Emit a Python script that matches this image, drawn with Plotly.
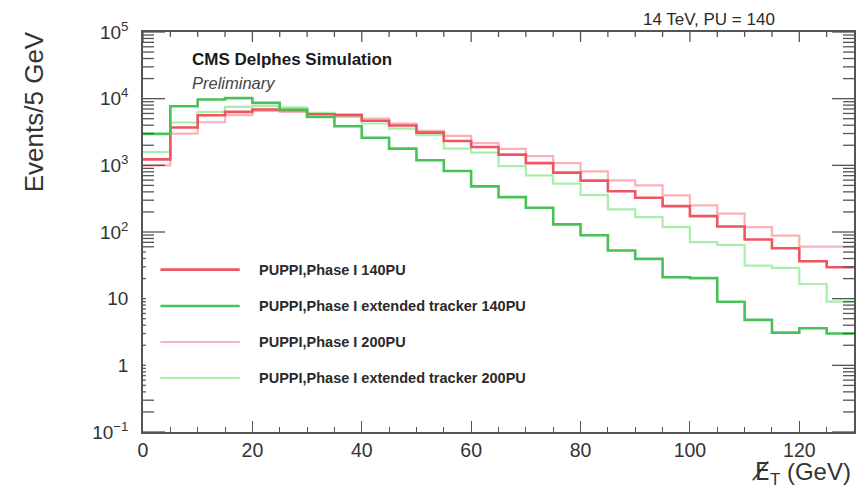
import math
import plotly.graph_objects as go

# Missing transverse energy spectra, 5 GeV bins from 0 to 130 GeV
bin_width = 5
bin_low_edges = [0, 5, 10, 15, 20, 25, 30, 35, 40, 45, 50, 55, 60, 65, 70, 75,
                 80, 85, 90, 95, 100, 105, 110, 115, 120, 125]

phase1_140pu = [1230, 3690, 5650, 6330, 6880, 6710, 5850, 5650, 4670, 3950,
                3100, 2320, 1880, 1450, 1080, 777, 589, 409, 327, 244,
                173, 121, 77, 57, 36.4, 29.6]
ext_tracker_140pu = [2960, 7710, 9730, 10180, 8650, 6880, 5320, 3860, 2590, 1780,
                     1190, 821, 483, 334, 231, 130, 89.5, 52.7, 39.5, 21.0,
                     20.3, 9.0, 4.8, 3.1, 3.6, 3.0]
phase1_200pu = [1000, 2980, 4430, 5650, 6560, 6330, 5990, 5850, 5040, 4240,
                3280, 2760, 2160, 1760, 1370, 1080, 813, 595, 500, 354,
                250, 188, 118, 88.5, 60.5, 60.5]
ext_tracker_200pu = [1585, 4390, 6330, 7530, 7710, 7380, 6110, 5320, 4240, 3560,
                     2830, 1780, 1550, 976, 708, 531, 357, 218, 167, 118,
                     70.3, 64.2, 31.3, 29.0, 16.6, 9.0]

series_names = [
    "PUPPI,Phase I 140PU",
    "PUPPI,Phase I extended tracker 140PU",
    "PUPPI,Phase I 200PU",
    "PUPPI,Phase I extended tracker 200PU",
]
series_values = [phase1_140pu, ext_tracker_140pu, phase1_200pu, ext_tracker_200pu]
series_colors = ["#ee5560", "#48c258", "#f9b2b7", "#aaeeaa"]
series_widths = [2.6, 2.6, 2.2, 2.2]

y_tick_vals = [0.1, 1, 10, 100, 1000, 10000, 100000]
y_tick_text = ["10<sup>\u22121</sup>", "1", "10", "10<sup>2</sup>",
               "10<sup>3</sup>", "10<sup>4</sup>", "10<sup>5</sup>"]
y_minor_vals = [m * 10.0 ** e for e in range(-1, 5) for m in range(2, 10)]
x_tick_vals = [0, 20, 40, 60, 80, 100, 120]
x_minor_vals = [v for v in range(5, 130, 5) if v % 20 != 0]

X_RANGE = [0, 130]
Y_LOG_RANGE = [-1, 5]

FONT = "Liberation Sans, Arial, Helvetica, sans-serif"
AXIS_COLOR = "#555555"
TEXT_COLOR = "#2a2a2a"

# plot-area size in pixels, used to turn tick lengths into paper fractions
PLOT_W, PLOT_H = 711, 400

fig = go.Figure()

# Step histograms: each bin drawn flat across its width
x_steps = bin_low_edges + [bin_low_edges[-1] + bin_width]
draw_order = [2, 3, 0, 1]
for i in draw_order:
    vals = series_values[i]
    fig.add_trace(go.Scatter(
        x=x_steps,
        y=vals + [vals[-1]],
        mode="lines",
        line=dict(color=series_colors[i], width=series_widths[i], shape="hv"),
        name=series_names[i],
        showlegend=False,
        hoverinfo="skip",
    ))

shapes = []
annotations = []

# Frame ticks (ROOT style) on both vertical sides and along the top edge,
# placed in paper fractions of the axis ranges
def y_frac(value):
    return (math.log10(value) - Y_LOG_RANGE[0]) / (Y_LOG_RANGE[1] - Y_LOG_RANGE[0])

def x_frac(value):
    return (value - X_RANGE[0]) / (X_RANGE[1] - X_RANGE[0])

def y_tick(value, length_px, right):
    frac = length_px / PLOT_W
    x0, x1 = (1 - frac, 1) if right else (0, frac)
    yp = y_frac(value)
    return dict(type="line", xref="paper", yref="paper", x0=x0, x1=x1, y0=yp, y1=yp,
                line=dict(color=AXIS_COLOR, width=1.3), layer="above")

def x_top_tick(value, length_px):
    xp = x_frac(value)
    return dict(type="line", xref="paper", yref="paper", x0=xp, x1=xp,
                y0=1 - length_px / PLOT_H, y1=1,
                line=dict(color=AXIS_COLOR, width=1.3), layer="above")

for side in (False, True):
    for v in y_tick_vals:
        shapes.append(y_tick(v, 22, side))
    for v in y_minor_vals:
        shapes.append(y_tick(v, 11, side))
for v in x_tick_vals:
    shapes.append(x_top_tick(v, 10))
for v in x_minor_vals:
    shapes.append(x_top_tick(v, 5))

# Legend panel with an opaque white fill (hides the axis ticks behind it)
shapes.append(dict(type="rect", xref="paper", yref="paper",
                   x0=0.004, x1=0.57, y0=0.092, y1=0.457,
                   fillcolor="white", line=dict(width=0), layer="above"))
legend_rows = [0.406, 0.315, 0.225, 0.135]
for i, yrow in enumerate(legend_rows):
    shapes.append(dict(type="line", xref="paper", yref="paper",
                       x0=0.0245, x1=0.136, y0=yrow, y1=yrow,
                       line=dict(color=series_colors[i], width=series_widths[i]),
                       layer="above"))
    annotations.append(dict(xref="paper", yref="paper", x=0.161, y=yrow,
                            xanchor="left", yanchor="middle", showarrow=False,
                            text="<b>" + series_names[i] + "</b>",
                            font=dict(family=FONT, size=14.5, color=TEXT_COLOR)))

annotations += [
    dict(xref="paper", yref="paper", x=0.066, y=0.931, xanchor="left", yanchor="middle",
         showarrow=False, text="<b>CMS Delphes Simulation</b>",
         font=dict(family=FONT, size=17, color="#1a1a1a")),
    dict(xref="paper", yref="paper", x=0.066, y=0.872, xanchor="left", yanchor="middle",
         showarrow=False, text="<i>Preliminary</i>",
         font=dict(family=FONT, size=16.5, color="#444444")),
    dict(xref="paper", yref="paper", x=0.892, y=1.03, xanchor="right", yanchor="middle",
         showarrow=False, text="14 TeV, PU = 140",
         font=dict(family=FONT, size=17, color=TEXT_COLOR)),
    dict(xref="paper", yref="paper", x=-0.153, y=0.80, xanchor="center", yanchor="middle",
         showarrow=False, text="Events/5 GeV", textangle=-90,
         font=dict(family=FONT, size=26, color="#333333")),
    dict(xref="paper", yref="paper", x=0.999, y=-0.103, xanchor="right", yanchor="middle",
         showarrow=False,
         text="<span style=\"font-family:'DejaVu Sans'\">E\u0338</span><sub>T</sub> (GeV)",
         font=dict(family=FONT, size=24, color="#333333")),
]

fig.update_layout(
    width=868, height=490,
    margin=dict(l=143, r=14, t=32, b=58),
    paper_bgcolor="white", plot_bgcolor="white",
    shapes=shapes, annotations=annotations,
    showlegend=False,
    font=dict(family=FONT, color=TEXT_COLOR),
)

fig.update_xaxes(
    range=X_RANGE, showgrid=False, zeroline=False,
    showline=True, linecolor=AXIS_COLOR, linewidth=1.5, mirror=True,
    ticks="inside", ticklen=11, tickwidth=1.3, tickcolor=AXIS_COLOR,
    tickvals=x_tick_vals, tickfont=dict(family=FONT, size=19.5, color="#333333"),
    minor=dict(ticks="inside", dtick=5, ticklen=5, tickwidth=1.2, tickcolor=AXIS_COLOR),
)
fig.update_yaxes(
    type="log", range=Y_LOG_RANGE, showgrid=False, zeroline=False,
    showline=True, linecolor=AXIS_COLOR, linewidth=1.5, mirror=True,
    ticks="", tickvals=y_tick_vals, ticktext=y_tick_text,
    tickfont=dict(family=FONT, size=19, color="#333333"),
    ticklabelstandoff=9,
)

fig.write_html("out.html")
